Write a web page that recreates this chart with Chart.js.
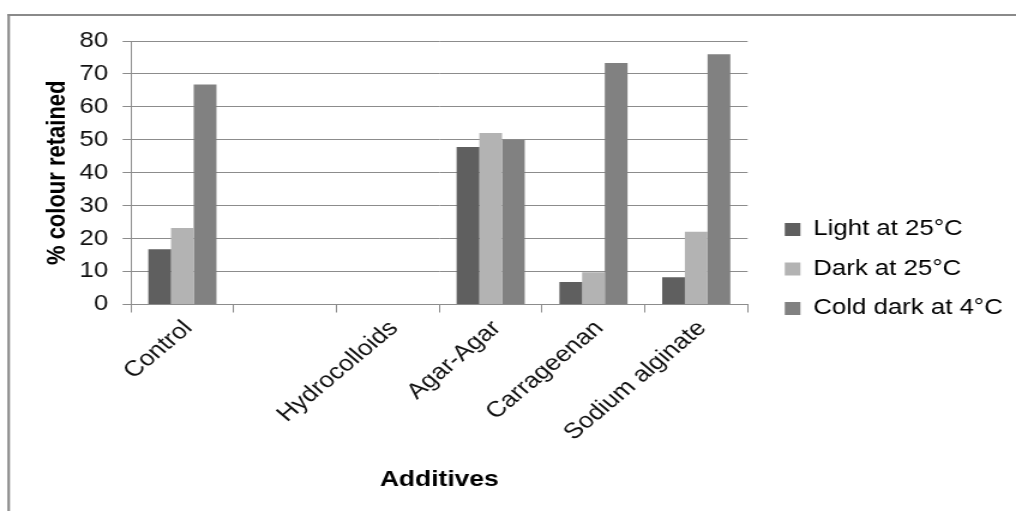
<!DOCTYPE html>
<html>
<head>
<meta charset="utf-8">
<script src="https://cdn.jsdelivr.net/npm/chart.js@4.4.0/dist/chart.umd.min.js"></script>
<style>
  html, body { margin: 0; padding: 0; background: #fff; }
</style>
</head>
<body>
<!-- drawn at 847 wide, shown 1016 wide: text and bars come out slightly stretched -->
<canvas id="chart" width="847" height="511" style="display:block;width:1016px;height:511px"></canvas>
<script>
const additives = ['Control', '', 'Hydrocolloids', 'Agar-Agar', 'Carrageenan', 'Sodium alginate'];
const seriesNames = ['Light at 25\u00B0C', 'Dark at 25\u00B0C', 'Cold dark at 4\u00B0C'];
const lightAt25 = [16.8, null, null, 47.8, 6.8, 8.3];
const darkAt25 = [23.2, null, null, 52.1, 9.8, 22.1];
const coldDarkAt4 = [66.8, null, null, 50.0, 73.3, 76.0];
const yTicks = [0, 10, 20, 30, 40, 50, 60, 70, 80];

const FONT = "'Liberation Sans', Arial, sans-serif";
const gridGrey = '#8c8c8c';

// white page plus the grey frame along the top and left edges
const framePlugin = {
    id: 'frame',
    beforeDraw(chart) {
        const ctx = chart.ctx;
        ctx.save();
        ctx.fillStyle = '#fff';
        ctx.fillRect(0, 0, chart.width, chart.height);
        ctx.fillStyle = '#8a8a8a';
        ctx.fillRect(6.2, 14, 2.1, chart.height);
        ctx.fillRect(6.2, 14, chart.width, 2);
        ctx.restore();
    }
};

// push the legend a little further away from the plot
const legendShift = {
    id: 'legendShift',
    afterLayout(chart) {
        const lg = chart.legend;
        if (!lg) return;
        lg.left += 13;
        lg.right += 13;
    }
};

const data = {
    labels: additives,
    datasets: [
        { label: seriesNames[0], data: lightAt25, backgroundColor: '#5f5f5f' },
        { label: seriesNames[1], data: darkAt25, backgroundColor: '#b3b3b3' },
        { label: seriesNames[2], data: coldDarkAt4, backgroundColor: '#818181' }
    ]
};

const ctx = document.getElementById('chart').getContext('2d');
const chart = new Chart(ctx, {
    type: 'bar',
    data: data,
    plugins: [framePlugin, legendShift],
    options: {
        responsive: false,
        animation: false,
        devicePixelRatio: 1,
        layout: { padding: { top: 41, right: 16, bottom: 14, left: 0 } },
        datasets: {
            bar: { categoryPercentage: 0.663, barPercentage: 1.0, borderWidth: 0 }
        },
        plugins: {
            tooltip: { enabled: false },
            legend: {
                position: 'right',
                align: 'center',
                labels: {
                    boxWidth: 13,
                    boxHeight: 13,
                    padding: 18,
                    color: '#000',
                    font: { family: FONT, size: 21.5 }
                }
            }
        },
        scales: {
            x: {
                grid: { drawOnChartArea: false, drawTicks: true, tickLength: 8, color: gridGrey },
                border: { display: true, color: gridGrey },
                ticks: {
                    autoSkip: false,
                    minRotation: 45,
                    maxRotation: 45,
                    padding: 3,
                    labelOffset: 5,
                    color: '#111',
                    font: { family: FONT, size: 22 }
                },
                title: {
                    display: true,
                    text: 'Additives',
                    color: '#000',
                    font: { family: FONT, size: 22, weight: 'bold' },
                    padding: { top: 0, bottom: 4 }
                },
                afterFit(scale) { scale.height = 192.5; }
            },
            y: {
                min: 0,
                max: 80,
                afterBuildTicks(scale) { scale.ticks = yTicks.map(v => ({ value: v })); },
                grid: { color: gridGrey, tickLength: 7 },
                border: { display: true, color: gridGrey },
                ticks: {
                    padding: 12,
                    color: '#111',
                    font: { family: FONT, size: 21.5 }
                },
                title: {
                    display: true,
                    text: '% colour retained',
                    color: '#000',
                    font: { family: FONT, size: 22, weight: 'bold' },
                    padding: { top: 35, bottom: 0 }
                },
                afterFit(scale) { scale.width = 109.2; }
            }
        }
    }
});
</script>
</body>
</html>
